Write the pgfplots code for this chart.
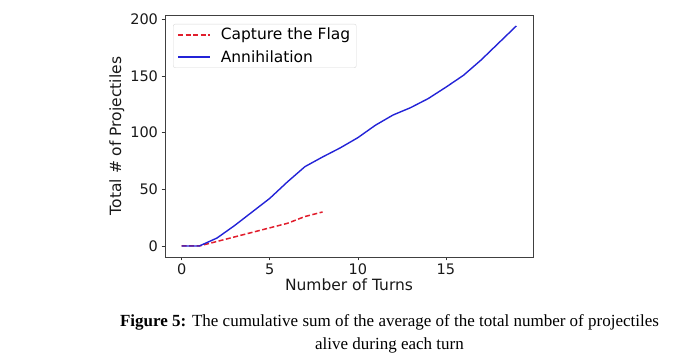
\documentclass[border=0pt]{standalone}
\usepackage{pgfplots}
\pgfplotsset{compat=1.18}
\usepackage{fontspec}
\setmainfont{DejaVu Sans}
\newfontfamily\capfont{Liberation Serif}
\definecolor{ctfred}{RGB}{225,30,45}
\definecolor{annblue}{RGB}{35,35,215}
\begin{document}
\begin{tikzpicture}[x=1pt,y=1pt]
\useasboundingbox (0,0) rectangle (674,355);
\begin{axis}[
  at={(165pt,98pt)}, anchor=south west,
  width=368pt, height=242pt, scale only axis,
  xmin=-0.95, xmax=19.95, ymin=-9.7, ymax=203.7,
  xtick={0,5,10,15}, ytick={0,50,100,150,200},
  tick align=outside, tick pos=left,
  major tick length=3.5pt,
  every tick/.style={black!80, line width=0.6pt},
  axis line style={black!75, line width=0.7pt},
  /pgf/number format/assume math mode=true,
  ticklabel style={font=\fontsize{14.5}{16}\selectfont, text=black!90},
  xlabel={Number of Turns}, ylabel={Total \# of Projectiles},
  label style={font=\fontsize{15.5}{17}\selectfont, text=black!90},
  xlabel style={yshift=3pt},
  ylabel style={yshift=-1pt},
  legend cell align=left,
  legend style={at={(0.022,0.963)}, anchor=north west, draw=black!15, rounded corners=2pt,
    font=\fontsize{15.5}{17}\selectfont, row sep=5pt, inner xsep=4pt, inner ysep=2pt},
  legend image code/.code={%
    \draw[mark repeat=2,mark phase=2,#1] plot coordinates {(0pt,0pt) (16pt,0pt) (32pt,0pt)};
    \path (40pt,0pt);},
]
\addplot[color=ctfred, draw=ctfred, line width=1.5pt, dash pattern=on 5pt off 2.5pt] coordinates {
(0,0) (1,0) (2,4) (3,8) (4,12) (5,16) (6,20) (7,26) (8,30)};
\addlegendentry{Capture the Flag}
\addplot[color=annblue, draw=annblue, line width=1.4pt] coordinates {
(0,0) (1,0) (2,7) (3,18) (4,30) (5,42) (6,56.5) (7,70) (8,78.5) (9,86.5) (10,95.5)
(11,106.5) (12,115.5) (13,122) (14,130) (15,140) (16,150.5) (17,164) (18,179) (19,194)};
\addlegendentry{Annihilation}
\end{axis}
\node[anchor=base, font=\capfont\fontsize{17}{20}\selectfont, inner sep=0pt] at (389.5,28) {\textbf{Figure 5:} The cumulative sum of the average of the total number of projectiles};
\node[anchor=base, font=\capfont\fontsize{17}{20}\selectfont, inner sep=0pt] at (389.5,5) {alive during each turn};
\end{tikzpicture}
\end{document}
